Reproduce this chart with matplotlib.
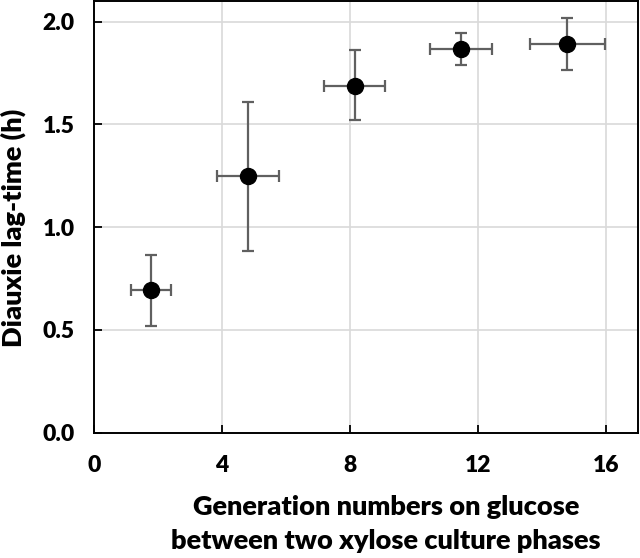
import matplotlib
matplotlib.use("Agg")
import matplotlib.pyplot as plt

gen = [1.77, 4.81, 8.14, 11.47, 14.79]
gen_err = [0.62, 0.96, 0.96, 0.96, 1.17]
lag = [0.692, 1.247, 1.689, 1.867, 1.893]
lag_err_low = [0.174, 0.361, 0.169, 0.079, 0.128]
lag_err_high = [0.172, 0.360, 0.172, 0.080, 0.125]
xticks = [0, 4, 8, 12, 16]
yticks = [0.0, 0.5, 1.0, 1.5, 2.0]

plt.rcParams['font.family'] = ['Lato', 'DejaVu Sans']

fig = plt.figure(figsize=(6.4, 5.58), dpi=100)
ax = fig.add_axes([0.147, 0.2246, 0.850, 0.7734])

ax.errorbar(gen, lag, xerr=gen_err, yerr=[lag_err_low, lag_err_high],
            fmt='o', color='black', markersize=11.5, ecolor='#606060',
            elinewidth=1.6, capsize=4, capthick=1.6, zorder=3)

ax.set_xlim(0, 17)
ax.set_ylim(0, 2.1)
ax.set_xticks(xticks)
ax.set_yticks(yticks)
ax.set_xticklabels([str(t) for t in xticks], fontsize=16.5, fontweight='heavy')
ax.set_yticklabels([f"{t:.1f}" for t in yticks], fontsize=16.5, fontweight='heavy')
ax.tick_params(direction='in', length=6, width=1.3)
ax.tick_params(axis='x', pad=16)
ax.tick_params(axis='y', pad=14)
ax.grid(True, color='#d9d9d9', linewidth=1.2, zorder=0)
ax.set_axisbelow(True)
for s in ax.spines.values():
    s.set_linewidth(1.4)
    s.set_color('black')

ax.set_xlabel("Generation numbers on glucose\nbetween two xylose culture phases",
              fontsize=19.5, fontweight='heavy', linespacing=1.5)
ax.xaxis.set_label_coords(0.537, -0.145)
ax.set_ylabel("Diauxie lag-time (h)", fontsize=19.5, fontweight='heavy')
ax.yaxis.set_label_coords(-0.125, 0.474)

fig.savefig("out.png", dpi=100)
